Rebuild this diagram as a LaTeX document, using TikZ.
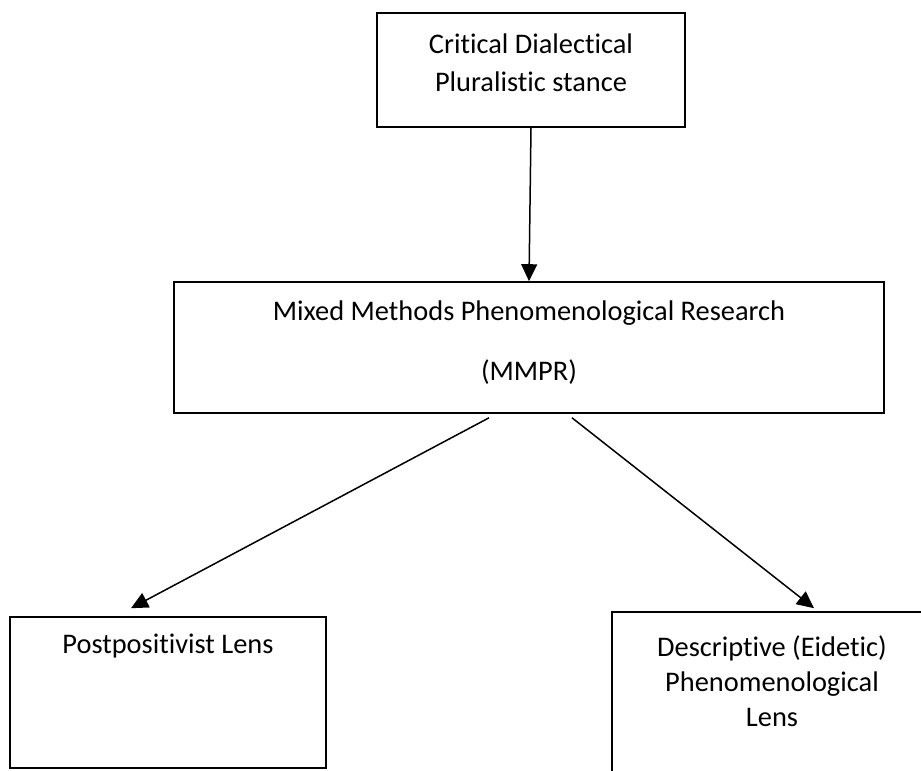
\documentclass[tikz,border=0pt]{standalone}
\usepackage{fontspec}
\setmainfont{Carlito}[Ligatures=NoCommon]
\usetikzlibrary{positioning,arrows.meta}

\tikzset{
  box/.style={draw, line width=1.6pt, rectangle, inner sep=0pt},
  txt/.style={align=center, font=\fontsize{28.4}{38}\selectfont},
  conn/.style={line width=1.5pt, -{Triangle[length=17pt,width=16pt]}}
}

\begin{document}
\begin{tikzpicture}[x=1pt,y=-1pt]
\useasboundingbox (0,0) rectangle (921,771);
\clip (0,0) rectangle (921,771);

% boxes
\node[box, minimum width=308pt, minimum height=114pt] (stance) at (531,70) {};
\node[box, minimum width=710pt, minimum height=131pt] (mmpr) at (529,347.5) {};
\node[box, minimum width=316pt, minimum height=151pt] (post) at (168,692.5) {};
\node[box, minimum width=320pt, minimum height=170pt] (desc) at (772,697) {};

% texts
\node[txt] (stanceT) at ([yshift=7pt]stance.center) {Critical Dialectical\\Pluralistic stance};
\node[txt] (mmprT) at ([yshift=5pt]mmpr.center) {Mixed Methods Phenomenological Research\\[22pt](MMPR)};
\node[txt] (postT) at ([yshift=-30pt]post.north) {Postpositivist Lens};
\node[txt, font=\fontsize{28.4}{35}\selectfont] (descT) at ([yshift=-70pt]desc.north) {Descriptive (Eidetic)\\Phenomenological\\Lens};

% connectors
\draw[conn] (stance.south) -- (mmpr.north);
\draw[conn] ([xshift=-40pt,yshift=-4pt]mmpr.south) -- ([xshift=-37pt,yshift=8pt]post.north);
\draw[conn] ([xshift=43pt,yshift=-4pt]mmpr.south) -- ([xshift=42pt,yshift=3pt]desc.north);

\end{tikzpicture}
\end{document}
